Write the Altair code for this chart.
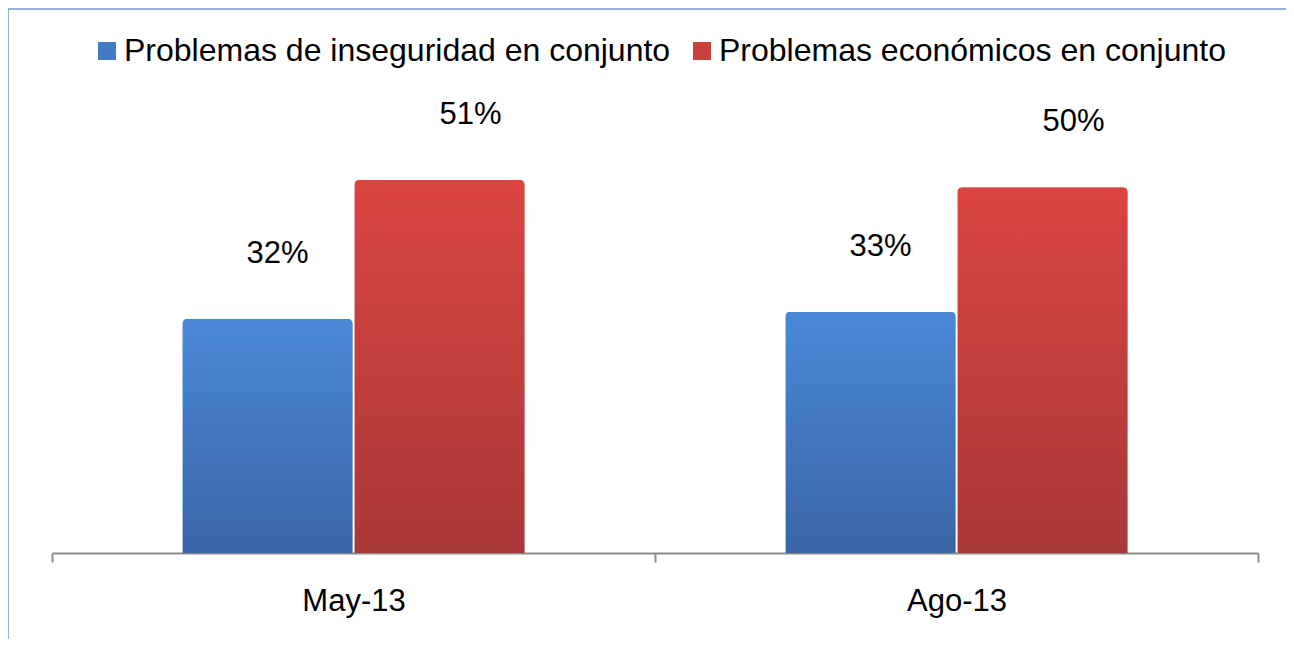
import altair as alt
import pandas as pd

categories = ["May-13", "Ago-13"]
series_names = ["Problemas de inseguridad en conjunto", "Problemas económicos en conjunto"]
inseguridad = [32, 33]
economicos = [51, 50]

rows = []
for i, c in enumerate(categories):
    rows.append({"cat": c, "series": series_names[0], "value": inseguridad[i]})
    rows.append({"cat": c, "series": series_names[1], "value": economicos[i]})
df = pd.DataFrame(rows)

FONT = "Liberation Sans"
solid_colors = ["#4479c4", "#c8403c"]
grad_blue = {"gradient": "linear", "x1": 0, "y1": 0, "x2": 0, "y2": 1,
             "stops": [{"offset": 0, "color": "#4a88d8"}, {"offset": 1, "color": "#3a66a6"}]}
grad_red = {"gradient": "linear", "x1": 0, "y1": 0, "x2": 0, "y2": 1,
            "stops": [{"offset": 0, "color": "#da4541"}, {"offset": 1, "color": "#a83838"}]}

x_enc = alt.X("cat:N", sort=categories, title=None,
              scale=alt.Scale(paddingInner=0, paddingOuter=0),
              axis=alt.Axis(labelAngle=0, labelFontSize=31, labelFont=FONT, labelColor="#000000",
                            domainColor="#8c8c8c", domainWidth=2, tickColor="#8c8c8c",
                            tickWidth=2, tickSize=9, tickBand="extent",
                            labelBaseline="alphabetic", labelPadding=48, grid=False))
xo_enc = alt.XOffset("series:N", sort=series_names,
                     scale=alt.Scale(paddingInner=0.01, paddingOuter=0.758))
y_enc = alt.Y("value:Q", scale=alt.Scale(domain=[0, 70], nice=False, zero=True), axis=None)

base = alt.Chart(df)

legend_bars = base.mark_bar(cornerRadiusTopLeft=5, cornerRadiusTopRight=5).encode(
    x=x_enc, xOffset=xo_enc, y=y_enc,
    color=alt.Color("series:N", sort=series_names,
                    scale=alt.Scale(domain=series_names, range=solid_colors),
                    legend=alt.Legend(title=None, orient="none", direction="horizontal",
                                      legendX=39, legendY=-6, symbolType="square",
                                      symbolSize=324, symbolStrokeWidth=0, symbolOpacity=1,
                                      labelFontSize=32, labelFont=FONT, labelColor="#000000",
                                      labelOffset=1, columnPadding=15, labelLimit=800))
)

grad_bars = base.mark_bar(cornerRadiusTopLeft=5, cornerRadiusTopRight=5).encode(
    x=x_enc, xOffset=xo_enc, y=y_enc,
    fill=alt.condition(alt.datum.series == series_names[0], alt.value(grad_blue), alt.value(grad_red))
)

labels_blue = base.transform_filter(alt.datum.series == series_names[0]).transform_calculate(
    label="datum.value + '%'"
).mark_text(fontSize=31, font=FONT, color="#000000", baseline="alphabetic", dy=-56, dx=10).encode(
    x=x_enc, xOffset=xo_enc, y=y_enc, text="label:N")

labels_red = base.transform_filter(alt.datum.series == series_names[1]).transform_calculate(
    label="datum.value + '%'"
).mark_text(fontSize=31, font=FONT, color="#000000", baseline="alphabetic", dy=-56, dx=31).encode(
    x=x_enc, xOffset=xo_enc, y=y_enc, text="label:N")

border_df = pd.DataFrame({"k": [0]})
border_top = alt.Chart(border_df).mark_rule(color="#6f97cc", strokeWidth=1.5).encode(
    x=alt.value(-44), x2=alt.value(1260), y=alt.value(-32))
border_left = alt.Chart(border_df).mark_rule(color="#6f97cc", strokeWidth=1.5).encode(
    x=alt.value(-44), y=alt.value(-32), y2=alt.value(600))

chart = alt.layer(legend_bars, grad_bars, labels_blue, labels_red, border_top, border_left).properties(
    width=1206, height=512,
    autosize=alt.AutoSizeParams(type="none"),
    padding={"left": 44, "top": 33, "right": 28, "bottom": 86},
    background="#ffffff"
).configure_view(stroke=None)

chart.save("out.html", embed_options={"renderer": "svg", "actions": False})
